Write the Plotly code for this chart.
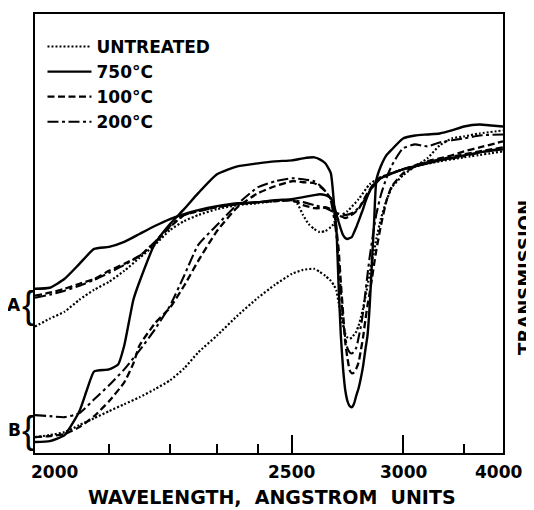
import numpy as np
import plotly.graph_objects as go

# Nonlinear (prism) wavelength scale of the original chart: wavelength -> axis position
SCALE_WL = [2000, 2100, 2200, 2300, 2400, 2500, 3000, 3500, 4000]
SCALE_POS = [0, 74, 135, 182, 223, 257, 368, 429, 468]

MAJOR_TICKS = [2000, 2500, 3000, 4000]
MINOR_TICKS = [2100, 2200, 2300, 2400, 3500]
TICK_LABELS = ["2000", "2500", "3000", "4000"]

# Sample A (upper group) - relative transmission, arbitrary units
WL_A0 = [2000,2020,2040,2060,2080,2100,2125,2150,2175,2200,2230,2260,2300,2350,2400,2450,2500,2525,2550,2575,2600,2625,2650,2675,2700,2725,2750,2800,2850,2900,3000,3100,3300,3500,4000]
T_A0 = [127,135,142,154,164,172,183,196,209,224,233,239,245,249,251,253,254,250,239,230,225,222,223,227,233,239,243,255,270,277,285,288,293,297,303]

WL_A750 = [2000,2020,2040,2060,2080,2100,2125,2150,2175,2200,2230,2260,2300,2350,2400,2450,2500,2550,2600,2625,2650,2675,2690,2700,2710,2720,2730,2740,2750,2760,2770,2780,2790,2800,2810,2820,2830,2840,2850,2870,2900,2950,3000,3100,3200,3300,3500,3700,4000]
T_A750 = [165,166,175,190,205,207,212,220,228,235,240,244,248,251,252,254,255,257,259,260,259,256,248,240,232,225,219,216,215,216,217,222,227,233,239,245,252,258,263,270,276,281,285,288,291,294,299,302,305]

WL_A100 = [2000,2020,2040,2060,2080,2100,2125,2150,2175,2200,2230,2260,2300,2350,2400,2450,2500,2550,2600,2625,2650,2675,2700,2720,2740,2760,2780,2800,2820,2840,2860,2880,2900,2950,3000,3100,3200,3300,3500,3700,4000]
T_A100 = [158,161,165,170,175,183,190,198,211,227,239,243,247,250,252,253,254,249,246,246,247,245,241,238,236,238,241,245,253,261,268,274,277,281,285,289,292,295,300,303,307]

WL_A200 = [2000,2020,2040,2060,2080,2100,2125,2150,2175,2200,2230,2260,2300,2350,2400,2450,2500,2550,2600,2650,2700,2740,2780,2820,2860,2900,2950,3000,3100,3300,3500,3700,4000]
T_A200 = [156,159,163,168,174,181,189,198,212,228,239,243,247,250,252,253,254,252,249,246,241,239,242,252,266,276,281,285,288,294,298,302,306]

# Sample B (lower group)
WL_B0 = [2000,2020,2040,2060,2080,2100,2125,2150,2175,2200,2230,2260,2300,2350,2400,2450,2500,2550,2600,2625,2650,2675,2690,2700,2710,2720,2730,2740,2750,2760,2770,2780,2790,2800,2810,2820,2830,2840,2850,2860,2870,2880,2900,2925,2950,3000,3100,3200,3300,3400,3500,3700,4000]
T_B0 = [16,18,21,28,35,42,49,56,64,73,85,101,118,138,156,169,180,184,185,182,178,173,168,163,151,139,128,120,116,115,116,119,122,128,136,145,156,168,181,192,203,215,235,253,267,279,288,296,309,316,318,321,324]

WL_B750 = [2000,2020,2040,2060,2070,2080,2100,2115,2125,2140,2150,2175,2200,2230,2260,2300,2350,2400,2450,2500,2550,2600,2625,2650,2675,2690,2700,2710,2720,2730,2740,2750,2760,2770,2780,2790,2800,2810,2820,2830,2840,2850,2860,2870,2880,2900,2925,2950,3000,3100,3200,3300,3400,3500,3700,3850,4000]
T_B750 = [11,12,18,42,63,82,84,89,108,154,172,210,230,245,261,280,288,291,293,294,296,297,295,291,281,248,225,168,118,85,63,52,47,46,50,58,65,75,87,103,118,148,191,233,274,288,299,305,316,319,320,321,324,328,330,329,328]

WL_B100 = [2000,2020,2040,2060,2080,2100,2125,2140,2150,2175,2200,2230,2260,2300,2350,2400,2450,2500,2550,2600,2625,2650,2675,2690,2700,2710,2720,2730,2740,2750,2760,2770,2780,2790,2800,2810,2820,2830,2840,2850,2860,2870,2880,2900,2925,2950,3000,3100,3200,3300,3400,3500,3700,4000]
T_B100 = [16,17,19,26,37,52,71,90,108,130,146,168,193,223,247,261,268,273,272,271,268,263,255,243,225,205,171,141,111,95,83,80,81,85,91,103,116,133,148,161,175,190,204,228,253,268,281,288,293,296,299,303,307,313]

WL_B200 = [2000,2020,2040,2060,2080,2100,2125,2150,2175,2200,2230,2260,2300,2350,2400,2450,2500,2550,2600,2625,2650,2675,2690,2700,2710,2720,2730,2740,2750,2760,2770,2780,2790,2800,2810,2820,2830,2840,2850,2860,2870,2880,2900,2925,2950,3000,3100,3150,3200,3300,3500,3700,4000]
T_B200 = [38,37,36,40,54,68,84,103,124,148,178,209,229,250,267,273,276,275,273,269,263,253,235,219,191,163,133,116,105,101,100,102,106,116,127,141,160,179,197,212,227,240,259,276,289,306,310,309,308,312,316,319,320]

SERIES_NAMES = ["UNTREATED", "750°C", "100°C", "200°C"]

FONT = "DejaVu Sans"


def pos(wl):
    return np.interp(np.asarray(wl, dtype=float), SCALE_WL, SCALE_POS)


STYLES = {
    "UNTREATED": dict(dash="2px,2px", width=2.2),
    "750°C": dict(dash="solid", width=2.4),
    "100°C": dict(dash="7px,3.5px", width=2.3),
    "200°C": dict(dash="11px,3.5px,3px,3.5px", width=2.1),
}

fig = go.Figure()

groups = [
    ("B", [(WL_B0, T_B0), (WL_B750, T_B750), (WL_B100, T_B100), (WL_B200, T_B200)]),
    ("A", [(WL_A0, T_A0), (WL_A750, T_A750), (WL_A100, T_A100), (WL_A200, T_A200)]),
]
for gname, series in groups:
    for name, (wl, t) in zip(SERIES_NAMES, series):
        st = STYLES[name]
        fig.add_trace(go.Scatter(
            x=pos(wl), y=t, mode="lines", name=name,
            legendgroup=name, showlegend=(gname == "B"),
            line=dict(color="black", width=st["width"], dash=st["dash"],
                      shape="spline", smoothing=0.5),
            hoverinfo="skip",
        ))

fig.update_layout(
    width=534, height=510,
    margin=dict(l=27, r=39, t=4, b=65),
    paper_bgcolor="white", plot_bgcolor="white",
    font=dict(family=FONT, color="black"),
    showlegend=True,
    legend=dict(
        x=0.016, y=0.966, xanchor="left", yanchor="top",
        bgcolor="rgba(0,0,0,0)", borderwidth=0,
        font=dict(family=FONT, size=17, color="black", weight="bold"),
        tracegroupgap=0, itemwidth=44,
    ),
    xaxis=dict(
        range=[0, 468], showgrid=False, zeroline=False,
        showline=True, linecolor="black", linewidth=2, mirror=True,
        tickmode="array", tickvals=list(pos(MAJOR_TICKS)), ticktext=["", "", "", ""],
        ticks="inside", ticklen=18, tickwidth=2, tickcolor="black",
        minor=dict(tickmode="array", tickvals=list(pos(MINOR_TICKS)),
                   ticks="inside", ticklen=9, tickwidth=2, tickcolor="black",
                   showgrid=False),
    ),
    yaxis=dict(
        range=[0, 441], showgrid=False, zeroline=False,
        showline=True, linecolor="black", linewidth=2, mirror=True,
        showticklabels=False, ticks="",
    ),
)

label_shift = [19, -1, 0, -5]
for wl, txt, sh in zip(MAJOR_TICKS, TICK_LABELS, label_shift):
    fig.add_annotation(x=float(pos(wl)), xref="x", y=0, yref="paper",
                       text=txt, showarrow=False, xanchor="center", yanchor="top",
                       yshift=-7, xshift=sh,
                       font=dict(family=FONT, size=17, weight="bold"))

fig.add_annotation(x=0.5, xref="paper", y=0, yref="paper",
                   text="WAVELENGTH,  ANGSTROM  UNITS", showarrow=False,
                   xanchor="center", yanchor="top", yshift=-31, xshift=3,
                   font=dict(family=FONT, size=19, weight="bold"))

fig.add_annotation(x=1, xref="paper", y=0.4, yref="paper",
                   text="TRANSMISSION", showarrow=False, textangle=-90,
                   xanchor="left", yanchor="middle", xshift=9,
                   font=dict(family=FONT, size=18, weight="bold"))

# group labels with braces
for lab, ymid in [("A", 149), ("B", 23)]:
    fig.add_annotation(x=0, xref="paper", y=ymid, yref="y", text=lab,
                       showarrow=False, xanchor="right", yanchor="middle",
                       xshift=-13, borderpad=0,
                       font=dict(family=FONT, size=17, weight="bold"))
    fig.add_annotation(x=0, xref="paper", y=ymid, yref="y", text="{",
                       showarrow=False, xanchor="right", yanchor="middle",
                       xshift=1, borderpad=0,
                       font=dict(family="Liberation Sans", size=38))

fig.write_html("out.html")
